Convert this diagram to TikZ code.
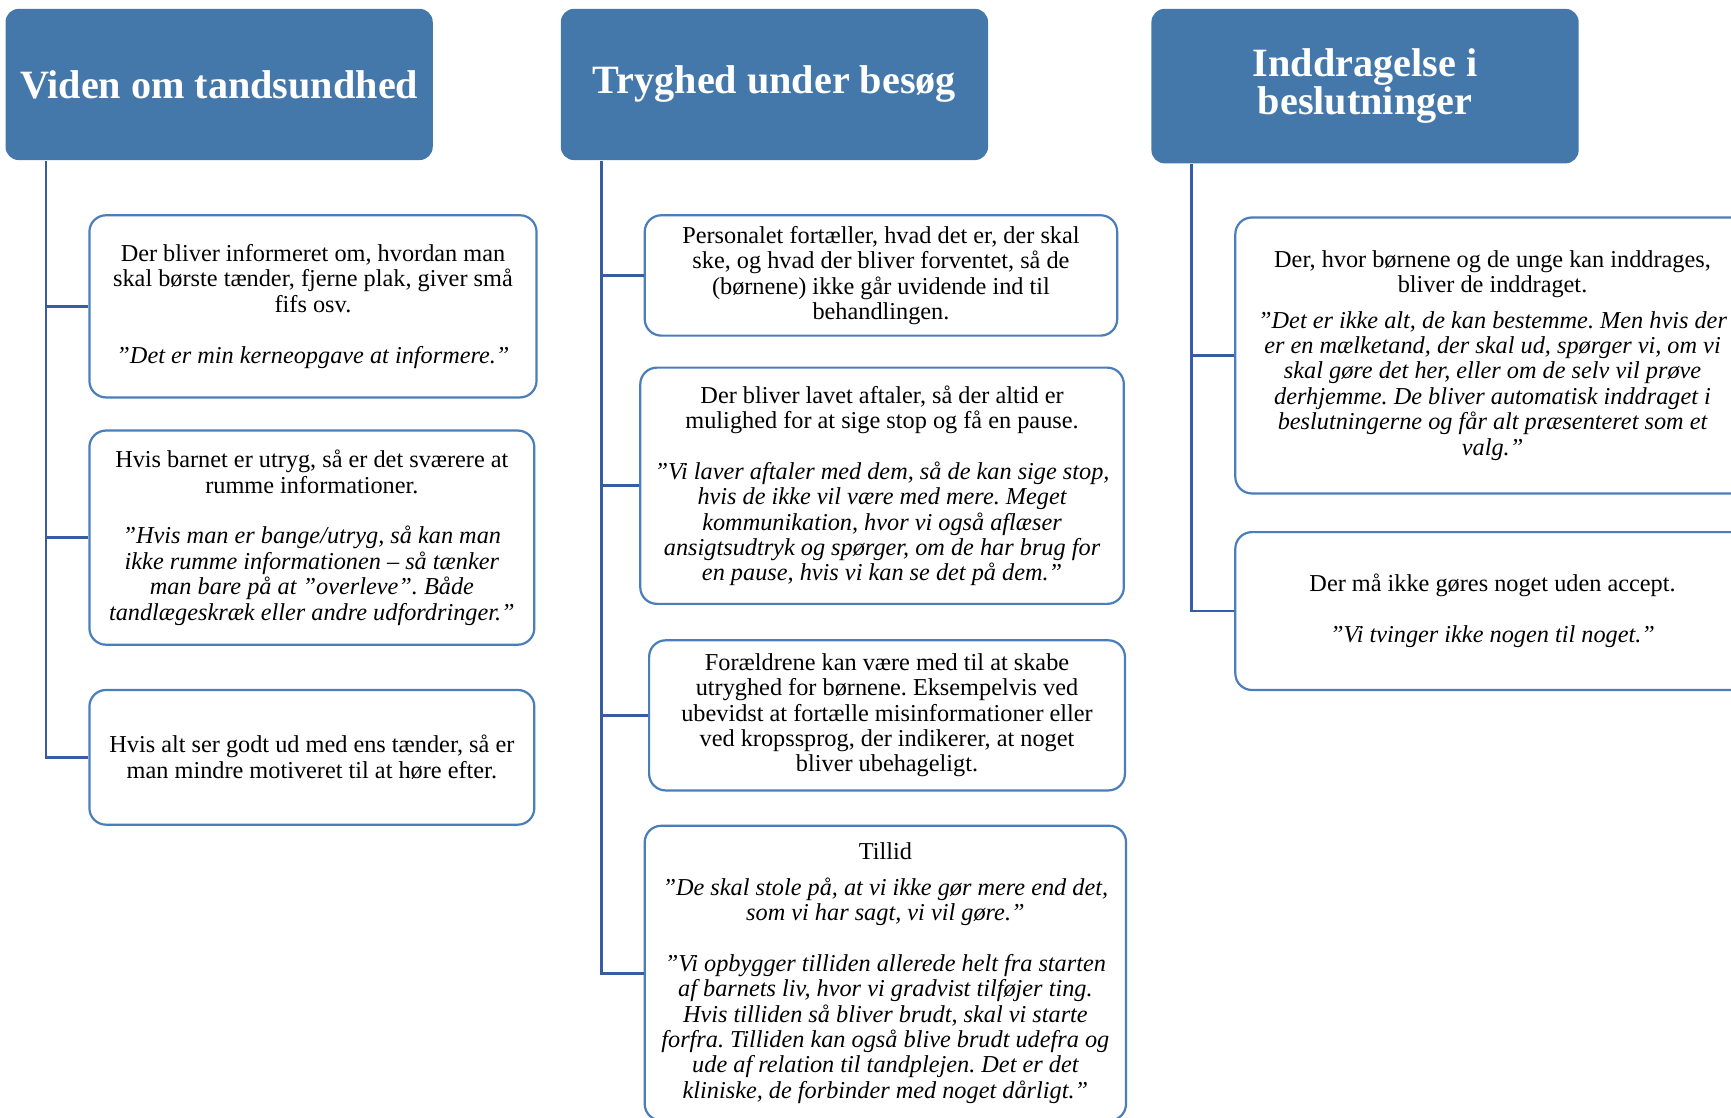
\documentclass[tikz,border=0pt]{standalone}
\usepackage{fontspec}
\setmainfont{Liberation Serif}
\usetikzlibrary{positioning}
\frenchspacing

\definecolor{headblue}{RGB}{68,120,171}
\definecolor{boxblue}{RGB}{74,126,187}
\definecolor{lineblue}{RGB}{54,92,164}

\tikzset{
	theme/.style = {rectangle, rounded corners=6pt, fill=headblue, text=white,
		font=\fontsize{18.2}{17.5}\selectfont\bfseries, align=center,
		minimum width=193.5pt, minimum height=68.5pt, inner sep=0pt},
	point/.style = {rectangle, rounded corners=7.5pt, draw=boxblue, line width=1pt,
		fill=white, font=\fontsize{11}{11.5}\selectfont, align=center, inner sep=0pt},
	branch/.style = {draw=lineblue, line width=1.25pt}
}

\begin{document}
\begin{tikzpicture}[x=0.5pt,y=-0.5pt]
		\useasboundingbox (0,0) rectangle (1568,1012);
		\clip (0,0) rectangle (1568,1012);
		% overskrifter
		\node[theme] (viden) at (198.5,76.5) {Viden om tandsundhed};
		\node[theme] (tryghed) at (701.5,76.5) {Tryghed under besøg};
		\node[theme, minimum height=70pt] (inddrag) at (1236.5,78) {Inddragelse i\\beslutninger};
		% viden om tandsundhed
		\node[point, minimum width=202.5pt, minimum height=82.5pt] (info) at (283.5,277.5)
			{Der bliver informeret om, hvordan man\\
			skal børste tænder, fjerne plak, giver små\\
			fifs osv.\\[11.5pt]
			\itshape ”Det er min kerneopgave at informere.”};
		\node[point, minimum width=201.5pt, minimum height=97pt] (utryg) at (282.5,487)
			{Hvis barnet er utryg, så er det sværere at\\
			rumme informationer.\\[11.5pt]
			\itshape ”Hvis man er bange/utryg, så kan man\\
			\itshape ikke rumme informationen – så tænker\\
			\itshape man bare på at ”overleve”. Både\\
			\itshape tandlægeskræk eller andre udfordringer.”};
		\node[point, minimum width=201.5pt, minimum height=61pt] (motiv) at (282.5,686)
			{Hvis alt ser godt ud med ens tænder, så er\\
			man mindre motiveret til at høre efter.};
		% tryghed under besøg
		\node[point, minimum width=214pt, minimum height=54.5pt] (fortael) at (798,249.5)
			{Personalet fortæller, hvad det er, der skal\\
			ske, og hvad der bliver forventet, så de\\
			(børnene) ikke går uvidende ind til\\
			behandlingen.};
		\node[point, minimum width=219pt, minimum height=107pt] (aftale) at (799,440)
			{Der bliver lavet aftaler, så der altid er\\
			mulighed for at sige stop og få en pause.\\[11.5pt]
			\itshape ”Vi laver aftaler med dem, så de kan sige stop,\\
			\itshape hvis de ikke vil være med mere. Meget\\
			\itshape kommunikation, hvor vi også aflæser\\
			\itshape ansigtsudtryk og spørger, om de har brug for\\
			\itshape en pause, hvis vi kan se det på dem.”};
		\node[point, minimum width=215.5pt, minimum height=68pt] (foraeldre) at (803.5,648)
			{Forældrene kan være med til at skabe\\
			utryghed for børnene. Eksempelvis ved\\
			ubevidst at fortælle misinformationer eller\\
			ved kropssprog, der indikerer, at noget\\
			bliver ubehageligt.};
		\node[point, minimum width=218pt, minimum height=133.5pt] (tillid) at (802,881.5)
			{Tillid\\[4.5pt]
			\itshape ”De skal stole på, at vi ikke gør mere end det,\\
			\itshape som vi har sagt, vi vil gøre.”\\[11.5pt]
			\itshape ”Vi opbygger tilliden allerede helt fra starten\\
			\itshape af barnets liv, hvor vi gradvist tilføjer ting.\\
			\itshape Hvis tilliden så bliver brudt, skal vi starte\\
			\itshape forfra. Tilliden kan også blive brudt udefra og\\
			\itshape ude af relation til tandplejen. Det er det\\
			\itshape kliniske, de forbinder med noget dårligt.”};
		% inddragelse i beslutninger
		\node[point, minimum width=233pt, minimum height=125pt] (inddrages) at (1352,322)
			{Der, hvor børnene og de unge kan inddrages,\\
			bliver de inddraget.\\[4.5pt]
			\itshape ”Det er ikke alt, de kan bestemme. Men hvis der\\
			\itshape er en mælketand, der skal ud, spørger vi, om vi\\
			\itshape skal gøre det her, eller om de selv vil prøve\\
			\itshape derhjemme. De bliver automatisk inddraget i\\
			\itshape beslutningerne og får alt præsenteret som et\\
			\itshape valg.”};
		\node[point, minimum width=233pt, minimum height=71.5pt] (accept) at (1352,553.5)
			{Der må ikke gøres noget uden accept.\\[11.5pt]
			\itshape ”Vi tvinger ikke nogen til noget.”};
		% stammer og grene
		\coordinate (stem1) at ([xshift=18.5pt]viden.south west);
		\coordinate (stem2) at ([xshift=18.5pt]tryghed.south west);
		\coordinate (stem3) at ([xshift=18.5pt]inddrag.south west);
		\draw[branch] (stem1) |- (motiv.west);
		\draw[branch] (stem2) |- (tillid.west);
		\draw[branch] (stem3) |- (accept.west);
		\foreach \b in {info,utryg}
			\draw[branch] (stem1 |- \b.west) -- (\b.west);
		\foreach \b in {fortael,aftale,foraeldre}
			\draw[branch] (stem2 |- \b.west) -- (\b.west);
		\draw[branch] (stem3 |- inddrages.west) -- (inddrages.west);
	\end{tikzpicture}
\end{document}
